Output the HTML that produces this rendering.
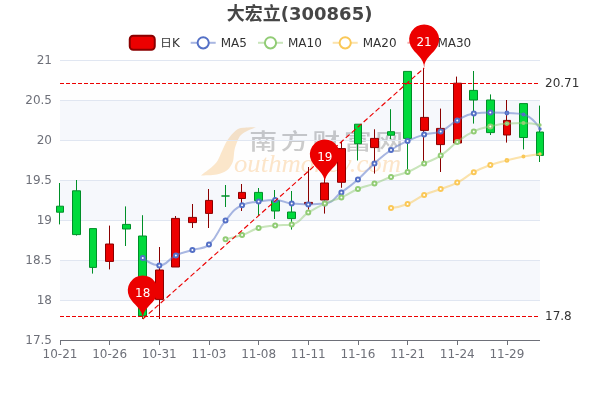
<!DOCTYPE html>
<html lang="zh"><head><meta charset="utf-8"><title>大宏立(300865)</title>
<style>html,body{margin:0;padding:0;background:#fff}svg{display:block}</style></head>
<body>
<svg width="600" height="400" viewBox="0 0 600 400" font-family='"DejaVu Sans","Liberation Sans","Noto Sans CJK SC",sans-serif' font-size="12">
<rect width="600" height="400" fill="#fff"/>
<g id="wm">
<path d="M200.8,175.6C201.3,175.2 202.8,173.9 204.0,173.0C205.2,172.1 206.3,171.3 208.0,170.0C209.7,168.7 212.3,166.7 214.0,165.0C215.7,163.3 216.6,162.5 218.0,160.0C219.4,157.5 220.9,153.3 222.5,150.0C224.1,146.7 225.3,143.2 227.5,140.0C229.7,136.8 233.2,132.5 235.8,130.5C238.4,128.5 239.6,128.3 243.0,127.8C246.4,127.2 253.8,127.3 256.0,127.2C254.7,127.8 250.5,129.2 248.0,130.5C245.5,131.8 242.8,133.2 241.0,135.0C239.2,136.8 238.6,138.5 237.5,141.0C236.4,143.5 235.2,146.8 234.5,150.0C233.8,153.2 233.9,157.4 233.3,160.0C232.7,162.6 232.1,163.8 231.0,165.5C229.9,167.2 229.1,169.0 226.7,170.5C224.3,172.0 221.0,173.7 216.7,174.5C212.4,175.3 203.5,175.4 200.8,175.6Z" fill="#fce2bf"/>
<text transform="translate(249.3,148.5) scale(1.3,1)" font-size="21.5" fill="#c0c0c0" font-family='"Noto Sans CJK SC",sans-serif' font-weight="500" letter-spacing="2.75">南方财富网</text>
<text x="234" y="172" font-size="25" fill="#fde0bd" font-style="italic" font-family='"Liberation Serif","DejaVu Serif",serif' textLength="167" lengthAdjust="spacingAndGlyphs">outhmoney.com</text>
</g>
<rect x="60" y="60" width="480" height="40" fill="rgba(250,250,250,0.2)"/>
<rect x="60" y="100" width="480" height="40" fill="rgba(210,219,238,0.2)"/>
<rect x="60" y="140" width="480" height="40" fill="rgba(250,250,250,0.2)"/>
<rect x="60" y="180" width="480" height="40" fill="rgba(210,219,238,0.2)"/>
<rect x="60" y="220" width="480" height="40" fill="rgba(250,250,250,0.2)"/>
<rect x="60" y="260" width="480" height="40" fill="rgba(210,219,238,0.2)"/>
<rect x="60" y="300" width="480" height="40" fill="rgba(250,250,250,0.2)"/>
<line x1="60" x2="540" y1="60.5" y2="60.5" stroke="#E0E6F1"/>
<line x1="60" x2="540" y1="100.5" y2="100.5" stroke="#E0E6F1"/>
<line x1="60" x2="540" y1="140.5" y2="140.5" stroke="#E0E6F1"/>
<line x1="60" x2="540" y1="180.5" y2="180.5" stroke="#E0E6F1"/>
<line x1="60" x2="540" y1="220.5" y2="220.5" stroke="#E0E6F1"/>
<line x1="60" x2="540" y1="260.5" y2="260.5" stroke="#E0E6F1"/>
<line x1="60" x2="540" y1="300.5" y2="300.5" stroke="#E0E6F1"/>
<line x1="60" x2="540" y1="340.5" y2="340.5" stroke="#6E7079"/>
<line x1="60.5" x2="60.5" y1="340" y2="345" stroke="#6E7079"/>
<text x="60.00" y="358" text-anchor="middle" fill="#6E7079">10-21</text>
<line x1="109.5" x2="109.5" y1="340" y2="345" stroke="#6E7079"/>
<text x="109.66" y="358" text-anchor="middle" fill="#6E7079">10-26</text>
<line x1="159.5" x2="159.5" y1="340" y2="345" stroke="#6E7079"/>
<text x="159.31" y="358" text-anchor="middle" fill="#6E7079">10-31</text>
<line x1="209.5" x2="209.5" y1="340" y2="345" stroke="#6E7079"/>
<text x="208.97" y="358" text-anchor="middle" fill="#6E7079">11-03</text>
<line x1="258.5" x2="258.5" y1="340" y2="345" stroke="#6E7079"/>
<text x="258.62" y="358" text-anchor="middle" fill="#6E7079">11-08</text>
<line x1="308.5" x2="308.5" y1="340" y2="345" stroke="#6E7079"/>
<text x="308.28" y="358" text-anchor="middle" fill="#6E7079">11-11</text>
<line x1="358.5" x2="358.5" y1="340" y2="345" stroke="#6E7079"/>
<text x="357.93" y="358" text-anchor="middle" fill="#6E7079">11-16</text>
<line x1="407.5" x2="407.5" y1="340" y2="345" stroke="#6E7079"/>
<text x="407.59" y="358" text-anchor="middle" fill="#6E7079">11-21</text>
<line x1="457.5" x2="457.5" y1="340" y2="345" stroke="#6E7079"/>
<text x="457.24" y="358" text-anchor="middle" fill="#6E7079">11-24</text>
<line x1="507.5" x2="507.5" y1="340" y2="345" stroke="#6E7079"/>
<text x="506.90" y="358" text-anchor="middle" fill="#6E7079">11-29</text>
<text x="52" y="64" text-anchor="end" fill="#6E7079">21</text>
<text x="52" y="104" text-anchor="end" fill="#6E7079">20.5</text>
<text x="52" y="144" text-anchor="end" fill="#6E7079">20</text>
<text x="52" y="184" text-anchor="end" fill="#6E7079">19.5</text>
<text x="52" y="224" text-anchor="end" fill="#6E7079">19</text>
<text x="52" y="264" text-anchor="end" fill="#6E7079">18.5</text>
<text x="52" y="304" text-anchor="end" fill="#6E7079">18</text>
<text x="52" y="344" text-anchor="end" fill="#6E7079">17.5</text>
<text x="299.6" y="20" text-anchor="middle" font-size="18" font-weight="bold" fill="#464646">大宏立(300865)</text>
<rect x="129.75" y="35.75" width="25" height="14" rx="3.5" fill="#ec0000" stroke="#8A0000" stroke-width="2"/>
<text x="160" y="47" fill="#333" font-family='"DejaVu Sans","Liberation Sans","IPAGothic","Noto Sans CJK SC",sans-serif'>日K</text>
<line x1="190.7" x2="215.7" y1="42.8" y2="42.8" stroke="#5470c6" stroke-width="2" stroke-opacity="0.5"/>
<circle cx="203.2" cy="42.8" r="5.6" fill="#fff" stroke="#5470c6" stroke-width="2"/>
<text x="220.7" y="47" fill="#333">MA5</text>
<line x1="258" x2="283" y1="42.8" y2="42.8" stroke="#91cc75" stroke-width="2" stroke-opacity="0.5"/>
<circle cx="270.5" cy="42.8" r="5.6" fill="#fff" stroke="#91cc75" stroke-width="2"/>
<text x="288" y="47" fill="#333">MA10</text>
<line x1="332.7" x2="357.7" y1="42.8" y2="42.8" stroke="#fac858" stroke-width="2" stroke-opacity="0.5"/>
<circle cx="345.2" cy="42.8" r="5.6" fill="#fff" stroke="#fac858" stroke-width="2"/>
<text x="362.7" y="47" fill="#333">MA20</text>
<line x1="407.4" x2="432.4" y1="42.8" y2="42.8" stroke="#ee6666" stroke-width="2" stroke-opacity="0.5"/>
<circle cx="419.9" cy="42.8" r="5.6" fill="#fff" stroke="#ee6666" stroke-width="2"/>
<text x="437.4" y="47" fill="#333">MA30</text>
<path d="M56.5,206.2H63.5V212.2H56.5Z M59.5,206.2V183.0 M59.5,212.2V224.4" fill="#00da3c" stroke="#008F28" stroke-width="1"/>
<path d="M72.5,190.8H80.5V234.6H72.5Z M76.5,190.8V180.0 M76.5,234.6V235.6" fill="#00da3c" stroke="#008F28" stroke-width="1"/>
<path d="M89.5,228.6H96.5V267.4H89.5Z M92.5,228.6V228.6 M92.5,267.4V273.6" fill="#00da3c" stroke="#008F28" stroke-width="1"/>
<path d="M105.5,244H113.5V261.4H105.5Z M109.5,244V225.6 M109.5,261.4V269.4" fill="#ec0000" stroke="#8A0000" stroke-width="1"/>
<path d="M122.5,224.4H130.5V229H122.5Z M125.5,224.4V206.4 M125.5,229V246.0" fill="#00da3c" stroke="#008F28" stroke-width="1"/>
<path d="M138.5,236H146.5V316H138.5Z M142.5,236V215.2 M142.5,316V319.0" fill="#00da3c" stroke="#008F28" stroke-width="1"/>
<path d="M155.5,270H163.5V299.4H155.5Z M159.5,270V247.0 M159.5,299.4V319.0" fill="#ec0000" stroke="#8A0000" stroke-width="1"/>
<path d="M171.5,218.4H179.5V267H171.5Z M175.5,218.4V216.0 M175.5,267V267.0" fill="#ec0000" stroke="#8A0000" stroke-width="1"/>
<path d="M188.5,217.4H196.5V222.6H188.5Z M192.5,217.4V204.0 M192.5,222.6V228.0" fill="#ec0000" stroke="#8A0000" stroke-width="1"/>
<path d="M205.5,200.4H212.5V213.4H205.5Z M208.5,200.4V189.0 M208.5,213.4V228.0" fill="#ec0000" stroke="#8A0000" stroke-width="1"/>
<path d="M221.5,196H229.5V196H221.5Z M225.5,196V185.0 M225.5,196V207.0" fill="#00da3c" stroke="#008F28" stroke-width="1"/>
<path d="M238.5,192.4H245.5V198.5H238.5Z M241.5,192.4V184.0 M241.5,198.5V211.0" fill="#ec0000" stroke="#8A0000" stroke-width="1"/>
<path d="M254.5,192.4H262.5V200.6H254.5Z M258.5,192.4V188.0 M258.5,200.6V216.0" fill="#00da3c" stroke="#008F28" stroke-width="1"/>
<path d="M271.5,200.6H279.5V211H271.5Z M274.5,200.6V190.0 M274.5,211V219.0" fill="#00da3c" stroke="#008F28" stroke-width="1"/>
<path d="M287.5,212H295.5V218.6H287.5Z M291.5,212V191.0 M291.5,218.6V229.6" fill="#00da3c" stroke="#008F28" stroke-width="1"/>
<path d="M304.5,202.4H312.5V204H304.5Z M308.5,202.4V167.0 M308.5,204V209.6" fill="#ec0000" stroke="#8A0000" stroke-width="1"/>
<path d="M320.5,183H328.5V200H320.5Z M324.5,183V178.0 M324.5,200V213.6" fill="#ec0000" stroke="#8A0000" stroke-width="1"/>
<path d="M337.5,148.6H345.5V182.3H337.5Z M341.5,148.6V141.0 M341.5,182.3V187.8" fill="#ec0000" stroke="#8A0000" stroke-width="1"/>
<path d="M354.5,124.2H361.5V143.7H354.5Z M357.5,124.2V124.2 M357.5,143.7V160.5" fill="#00da3c" stroke="#008F28" stroke-width="1"/>
<path d="M370.5,138.4H378.5V147.6H370.5Z M374.5,138.4V129.3 M374.5,147.6V173.6" fill="#ec0000" stroke="#8A0000" stroke-width="1"/>
<path d="M387.5,131.7H394.5V135.2H387.5Z M390.5,131.7V109.2 M390.5,135.2V139.0" fill="#00da3c" stroke="#008F28" stroke-width="1"/>
<path d="M403.5,71.4H411.5V138.4H403.5Z M407.5,71.4V71.4 M407.5,138.4V170.0" fill="#00da3c" stroke="#008F28" stroke-width="1"/>
<path d="M420.5,117.4H428.5V130.4H420.5Z M423.5,117.4V68.0 M423.5,130.4V161.0" fill="#ec0000" stroke="#8A0000" stroke-width="1"/>
<path d="M436.5,128.4H444.5V144.6H436.5Z M440.5,128.4V108.6 M440.5,144.6V172.0" fill="#ec0000" stroke="#8A0000" stroke-width="1"/>
<path d="M453.5,83.2H461.5V143H453.5Z M456.5,83.2V76.6 M456.5,143V143.0" fill="#ec0000" stroke="#8A0000" stroke-width="1"/>
<path d="M469.5,90.4H477.5V100H469.5Z M473.5,90.4V71.0 M473.5,100V123.6" fill="#00da3c" stroke="#008F28" stroke-width="1"/>
<path d="M486.5,100H494.5V132.6H486.5Z M490.5,100V94.4 M490.5,132.6V135.0" fill="#00da3c" stroke="#008F28" stroke-width="1"/>
<path d="M503.5,120.4H510.5V135H503.5Z M506.5,120.4V100.0 M506.5,135V142.6" fill="#ec0000" stroke="#8A0000" stroke-width="1"/>
<path d="M519.5,103.6H527.5V137.5H519.5Z M523.5,103.6V103.6 M523.5,137.5V149.4" fill="#00da3c" stroke="#008F28" stroke-width="1"/>
<path d="M536.5,132H543.5V155.4H536.5Z M539.5,132V105.6 M539.5,155.4V162.0" fill="#00da3c" stroke="#008F28" stroke-width="1"/>
<clipPath id="gc"><rect x="60" y="60" width="480" height="280"/></clipPath>
<path d="M142.76,258.00C142.76,258.00 151.30,265.40 159.31,265.40C167.85,265.40 167.15,259.45 175.86,255.40C183.70,251.75 184.15,252.75 192.41,250.00C200.70,247.25 202.74,249.93 208.97,244.40C219.29,235.23 216.22,231.61 225.52,220.60C232.77,212.01 232.61,210.00 242.07,205.20C249.16,201.60 250.27,202.91 258.62,201.60C266.82,200.31 266.97,200.00 275.17,200.00C283.52,200.00 283.36,202.78 291.72,203.60C299.91,204.40 300.00,204.40 308.28,204.40C316.55,204.40 317.32,204.40 324.83,203.60C333.88,202.64 333.32,198.29 341.38,192.40C349.87,186.19 350.03,186.33 357.93,179.40C366.58,171.83 365.88,171.04 374.48,163.40C382.44,156.34 382.25,155.94 391.03,150.00C398.80,144.74 399.06,144.97 407.59,141.00C415.61,137.27 415.65,137.06 424.14,134.60C432.20,132.26 433.09,134.60 440.69,131.40C449.64,127.63 448.54,125.10 457.24,120.40C465.09,116.15 465.20,114.69 473.79,113.50C481.75,112.40 482.06,112.40 490.34,112.40C498.61,112.40 498.63,112.50 506.90,113.00C515.18,113.50 516.34,113.00 523.45,114.40C532.89,116.26 540.00,129.00 540.00,129.00" fill="none" stroke="#5470c6" stroke-width="2" stroke-opacity="0.5" stroke-linejoin="bevel" clip-path="url(#gc)"/>
<circle cx="142.76" cy="258.00" r="2.00" fill="#fff" stroke="#5470c6" stroke-width="2"/>
<circle cx="159.31" cy="265.40" r="2.00" fill="#fff" stroke="#5470c6" stroke-width="2"/>
<circle cx="175.86" cy="255.40" r="2.00" fill="#fff" stroke="#5470c6" stroke-width="2"/>
<circle cx="192.41" cy="250.00" r="2.00" fill="#fff" stroke="#5470c6" stroke-width="2"/>
<circle cx="208.97" cy="244.40" r="2.00" fill="#fff" stroke="#5470c6" stroke-width="2"/>
<circle cx="225.52" cy="220.60" r="2.00" fill="#fff" stroke="#5470c6" stroke-width="2"/>
<circle cx="242.07" cy="205.20" r="2.00" fill="#fff" stroke="#5470c6" stroke-width="2"/>
<circle cx="258.62" cy="201.60" r="2.00" fill="#fff" stroke="#5470c6" stroke-width="2"/>
<circle cx="275.17" cy="200.00" r="2.00" fill="#fff" stroke="#5470c6" stroke-width="2"/>
<circle cx="291.72" cy="203.60" r="2.00" fill="#fff" stroke="#5470c6" stroke-width="2"/>
<circle cx="308.28" cy="204.40" r="2.00" fill="#fff" stroke="#5470c6" stroke-width="2"/>
<circle cx="324.83" cy="203.60" r="2.00" fill="#fff" stroke="#5470c6" stroke-width="2"/>
<circle cx="341.38" cy="192.40" r="2.00" fill="#fff" stroke="#5470c6" stroke-width="2"/>
<circle cx="357.93" cy="179.40" r="2.00" fill="#fff" stroke="#5470c6" stroke-width="2"/>
<circle cx="374.48" cy="163.40" r="2.00" fill="#fff" stroke="#5470c6" stroke-width="2"/>
<circle cx="391.03" cy="150.00" r="2.00" fill="#fff" stroke="#5470c6" stroke-width="2"/>
<circle cx="407.59" cy="141.00" r="2.00" fill="#fff" stroke="#5470c6" stroke-width="2"/>
<circle cx="424.14" cy="134.60" r="2.00" fill="#fff" stroke="#5470c6" stroke-width="2"/>
<circle cx="440.69" cy="131.40" r="2.00" fill="#fff" stroke="#5470c6" stroke-width="2"/>
<circle cx="457.24" cy="120.40" r="2.00" fill="#fff" stroke="#5470c6" stroke-width="2"/>
<circle cx="473.79" cy="113.50" r="2.00" fill="#fff" stroke="#5470c6" stroke-width="2"/>
<circle cx="490.34" cy="112.40" r="2.00" fill="#fff" stroke="#5470c6" stroke-width="2"/>
<circle cx="506.90" cy="113.00" r="1.40" fill="#fff" stroke="#5470c6" stroke-width="2"/>
<circle cx="523.45" cy="114.40" r="1.00" fill="#fff" stroke="#5470c6" stroke-width="2"/>
<circle cx="540.00" cy="129.00" r="0.66" fill="#fff" stroke="#5470c6" stroke-width="2"/>
<path d="M225.52,239.20C225.52,239.20 234.00,237.73 242.07,235.00C250.56,232.13 250.05,230.48 258.62,228.00C266.61,225.68 266.85,226.30 275.17,225.40C283.41,224.50 284.29,225.40 291.72,224.40C300.84,223.17 299.69,218.00 308.28,212.60C316.24,207.60 316.29,207.52 324.83,203.60C332.84,199.92 333.31,200.96 341.38,197.40C349.86,193.66 349.39,192.56 357.93,189.00C365.94,185.66 366.30,186.57 374.48,183.60C382.85,180.57 382.63,179.94 391.03,177.00C399.19,174.14 399.60,175.23 407.59,172.00C416.16,168.53 415.82,167.72 424.14,163.60C432.37,159.52 433.05,160.59 440.69,155.60C449.60,149.79 448.61,148.31 457.24,142.00C465.16,136.21 464.99,135.55 473.79,131.40C481.54,127.75 481.95,128.38 490.34,126.40C498.50,124.48 498.57,124.21 506.90,123.60C515.12,123.00 515.20,123.00 523.45,123.00C531.75,123.00 540.00,125.00 540.00,125.00" fill="none" stroke="#91cc75" stroke-width="2" stroke-opacity="0.5" stroke-linejoin="bevel" clip-path="url(#gc)"/>
<circle cx="225.52" cy="239.20" r="2.00" fill="#fff" stroke="#91cc75" stroke-width="2"/>
<circle cx="242.07" cy="235.00" r="2.00" fill="#fff" stroke="#91cc75" stroke-width="2"/>
<circle cx="258.62" cy="228.00" r="2.00" fill="#fff" stroke="#91cc75" stroke-width="2"/>
<circle cx="275.17" cy="225.40" r="2.00" fill="#fff" stroke="#91cc75" stroke-width="2"/>
<circle cx="291.72" cy="224.40" r="2.00" fill="#fff" stroke="#91cc75" stroke-width="2"/>
<circle cx="308.28" cy="212.60" r="2.00" fill="#fff" stroke="#91cc75" stroke-width="2"/>
<circle cx="324.83" cy="203.60" r="2.00" fill="#fff" stroke="#91cc75" stroke-width="2"/>
<circle cx="341.38" cy="197.40" r="2.00" fill="#fff" stroke="#91cc75" stroke-width="2"/>
<circle cx="357.93" cy="189.00" r="2.00" fill="#fff" stroke="#91cc75" stroke-width="2"/>
<circle cx="374.48" cy="183.60" r="2.00" fill="#fff" stroke="#91cc75" stroke-width="2"/>
<circle cx="391.03" cy="177.00" r="2.00" fill="#fff" stroke="#91cc75" stroke-width="2"/>
<circle cx="407.59" cy="172.00" r="2.00" fill="#fff" stroke="#91cc75" stroke-width="2"/>
<circle cx="424.14" cy="163.60" r="2.00" fill="#fff" stroke="#91cc75" stroke-width="2"/>
<circle cx="440.69" cy="155.60" r="2.00" fill="#fff" stroke="#91cc75" stroke-width="2"/>
<circle cx="457.24" cy="142.00" r="2.00" fill="#fff" stroke="#91cc75" stroke-width="2"/>
<circle cx="473.79" cy="131.40" r="2.00" fill="#fff" stroke="#91cc75" stroke-width="2"/>
<circle cx="490.34" cy="126.40" r="2.00" fill="#fff" stroke="#91cc75" stroke-width="2"/>
<circle cx="506.90" cy="123.60" r="1.40" fill="#fff" stroke="#91cc75" stroke-width="2"/>
<circle cx="523.45" cy="123.00" r="1.00" fill="#fff" stroke="#91cc75" stroke-width="2"/>
<circle cx="540.00" cy="125.00" r="0.66" fill="#fff" stroke="#91cc75" stroke-width="2"/>
<path d="M391.03,208.00C391.03,208.00 399.73,207.09 407.59,204.00C416.28,200.59 415.58,198.88 424.14,195.00C432.13,191.38 432.45,192.09 440.69,189.00C449.00,185.89 449.37,186.60 457.24,182.60C465.92,178.20 465.19,176.78 473.79,172.20C481.74,167.98 481.86,168.02 490.34,165.00C498.42,162.12 498.57,162.51 506.90,160.40C515.12,158.31 515.12,158.21 523.45,156.60C531.67,155.01 540.00,154.00 540.00,154.00" fill="none" stroke="#fac858" stroke-width="2" stroke-opacity="0.5" stroke-linejoin="bevel" clip-path="url(#gc)"/>
<circle cx="391.03" cy="208.00" r="2.00" fill="#fff" stroke="#fac858" stroke-width="2"/>
<circle cx="407.59" cy="204.00" r="2.00" fill="#fff" stroke="#fac858" stroke-width="2"/>
<circle cx="424.14" cy="195.00" r="2.00" fill="#fff" stroke="#fac858" stroke-width="2"/>
<circle cx="440.69" cy="189.00" r="2.00" fill="#fff" stroke="#fac858" stroke-width="2"/>
<circle cx="457.24" cy="182.60" r="2.00" fill="#fff" stroke="#fac858" stroke-width="2"/>
<circle cx="473.79" cy="172.20" r="2.00" fill="#fff" stroke="#fac858" stroke-width="2"/>
<circle cx="490.34" cy="165.00" r="2.00" fill="#fff" stroke="#fac858" stroke-width="2"/>
<circle cx="506.90" cy="160.40" r="1.40" fill="#fff" stroke="#fac858" stroke-width="2"/>
<circle cx="523.45" cy="156.60" r="1.00" fill="#fff" stroke="#fac858" stroke-width="2"/>
<circle cx="540.00" cy="154.00" r="0.66" fill="#fff" stroke="#fac858" stroke-width="2"/>
<line x1="142.76" y1="319" x2="424.14" y2="68" stroke="#ec0000" stroke-width="1.15" stroke-dasharray="5.2 2.8"/>
<line x1="60" x2="540" y1="83.5" y2="83.5" stroke="#ec0000" stroke-dasharray="4 2"/>
<line x1="60" x2="540" y1="316.5" y2="316.5" stroke="#ec0000" stroke-dasharray="4 2"/>
<text x="545" y="87" fill="#333">20.71</text>
<text x="545" y="320" fill="#333">17.8</text>
<path d="M410.59,45.86A15.00,15.00 0 1 1 437.69,45.86C433.83,53.99 424.14,57.50 424.14,68.00C424.14,57.50 414.44,53.99 410.59,45.86Z" fill="#ec0000"/>
<text x="424.14" y="46.35" text-anchor="middle" fill="#fff">21</text>
<path d="M129.21,296.86A15.00,15.00 0 1 1 156.31,296.86C152.45,304.99 142.76,308.50 142.76,319.00C142.76,308.50 133.06,304.99 129.21,296.86Z" fill="#ec0000"/>
<text x="142.76" y="297.36" text-anchor="middle" fill="#fff">18</text>
<path d="M311.27,160.86A15.00,15.00 0 1 1 338.38,160.86C334.52,168.99 324.83,172.50 324.83,183.00C324.83,172.50 315.13,168.99 311.27,160.86Z" fill="#ec0000"/>
<text x="324.83" y="161.35" text-anchor="middle" fill="#fff">19</text>
</svg>
</body></html>
